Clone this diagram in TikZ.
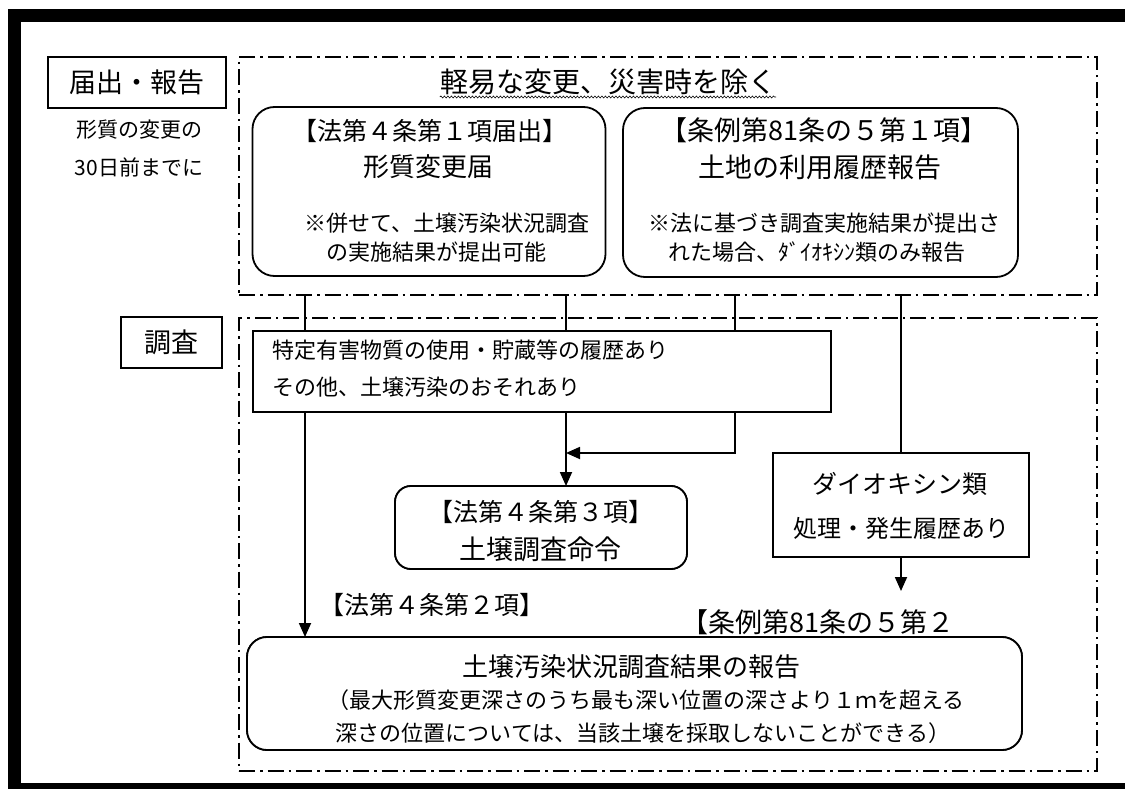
\documentclass[tikz,border=0pt]{standalone}
\usepackage{fontspec}
\setmainfont{Noto Sans CJK JP}
\usetikzlibrary{arrows.meta,decorations.pathmorphing}
\begin{document}
\begin{tikzpicture}[x=1pt,y=-1pt,
  box/.style={draw, line width=1.8pt, fill=white, inner sep=0pt, outer sep=0pt},
  rbox/.style={box, rounded corners=#1},
  frame/.style={draw, line width=1.6pt, inner sep=0pt, outer sep=0pt, dash pattern=on 16pt off 5pt on 2.5pt off 5pt},
  conn/.style={line width=1.8pt},
  arr/.style={conn, -{Triangle[length=14pt,width=12pt]}},
  txt/.style={inner sep=0pt, font=\fontsize{#1}{#1}\selectfont},
  txt/.default=22
]
\useasboundingbox (0,0) rectangle (1125,789);
% black border bars
\fill[black] (8,9) rectangle (1125,22);
\fill[black] (8,9) rectangle (21,789);
\fill[black] (8,783) rectangle (1125,789);

% dash-dot frames
\node[frame, minimum width=858pt, minimum height=238pt] (upframe) at (668,176) {};
\node[frame, minimum width=858pt, minimum height=453pt] (lowframe) at (668,544.5) {};

% left labels
\node[box, line width=1.6pt, minimum width=178pt, minimum height=51pt, txt=27] (lab1) at (137,82.5) {届出・報告};
\node[txt=21] (note1) at (139,130) {形質の変更の};
\node[txt=21] (note2) at (139,167) {30日前までに};
\node[box, line width=1.6pt, minimum width=101pt, minimum height=51pt, txt=27] (lab2) at (171.5,342.5) {調査};

% title with wavy underline
\node[txt=28] (title) at (608,82) {軽易な変更、災害時を除く};
\draw[line width=0.6pt, decorate, decoration={snake, amplitude=1pt, segment length=3.5pt}]
  (title.south west |- 0,97) -- (title.south east |- 0,97);

% connector start points on the upper frame
\coordinate (s1) at (305,295);
\coordinate (s2) at (566,295);
\coordinate (s3) at (735,295);
\coordinate (s4) at (901,295);

% boxes (defined first so connectors can refer to them, drawn again later on top)
\node[rbox=20pt, minimum width=775pt, minimum height=113pt] (rep) at (634.5,693.5) {};
\node[rbox=16pt, minimum width=292pt, minimum height=83pt] (cmd) at (541,527.5) {};
\node[box, minimum width=256pt, minimum height=104pt] (dio) at (901,505) {};
\coordinate (e4) at (901,591);

% connectors
\draw[arr] (s1) -- (s1 |- rep.north);
\draw[arr] (s2) -- (s2 |- cmd.north);
\draw[arr] (s3) |- (s2 |- dio.north);
\draw[conn] (s4) -- (dio.north);
\draw[arr] (dio.south) -- (e4);

% upper rounded boxes
\node[rbox=22pt, minimum width=353pt, minimum height=169pt] (boxA) at (429,191.5) {};
\node[txt=25] (a1) at (430,131) {【法第４条第１項届出】};
\node[txt=26] (a2) at (428,167) {形質変更届};
\node[txt=22] (a3) at (447,223) {※併せて、土壌汚染状況調査};
\node[txt=22] (a4) at (436,252) {の実施結果が提出可能};

\node[rbox=22pt, minimum width=395pt, minimum height=169pt] (boxB) at (820.5,192.5) {};
\node[txt=27] (b1) at (824,130) {【条例第81条の５第１項】};
\node[txt=27] (b2) at (820,167) {土地の利用履歴報告};
\node[txt=22] (b3) at (824,223) {※法に基づき調査実施結果が提出さ};
\node[txt=22] (b4) at (817,252) {れた場合、ﾀﾞｲｵｷｼﾝ類のみ報告};

% condition rectangle (on top of the connectors)
\node[box, minimum width=578pt, minimum height=81pt] (cond) at (542,371.5) {};
\node[txt=22, anchor=west] (c1) at (272,350) {特定有害物質の使用・貯蔵等の履歴あり};
\node[txt=22, anchor=west] (c2) at (272,387) {その他、土壌汚染のおそれあり};

% redraw boxes on top
\node[rbox=16pt, minimum width=292pt, minimum height=83pt] at (cmd) {};
\node[txt=25] (m1) at (541,512) {【法第４条第３項】};
\node[txt=27] (m2) at (540,549) {土壌調査命令};

\node[box, minimum width=256pt, minimum height=104pt] at (dio) {};
\node[txt=25] (d1) at (900,484) {ダイオキシン類};
\node[txt=24] (d2) at (901,528) {処理・発生履歴あり};

\node[rbox=20pt, minimum width=775pt, minimum height=113pt] at (rep) {};
\node[txt=26] (r1) at (631,667) {土壌汚染状況調査結果の報告};
\node[txt=22] (r2) at (646,700) {（最大形質変更深さのうち最も深い位置の深さより１ｍを超える};
\node[txt=22] (r3) at (643,733) {深さの位置については、当該土壌を採取しないことができる）};

% free labels
\node[txt=25] (l1) at (432,605) {【法第４条第２項】};
\node[txt=27] (l2) at (818,622) {【条例第81条の５第２};
\end{tikzpicture}
\end{document}
